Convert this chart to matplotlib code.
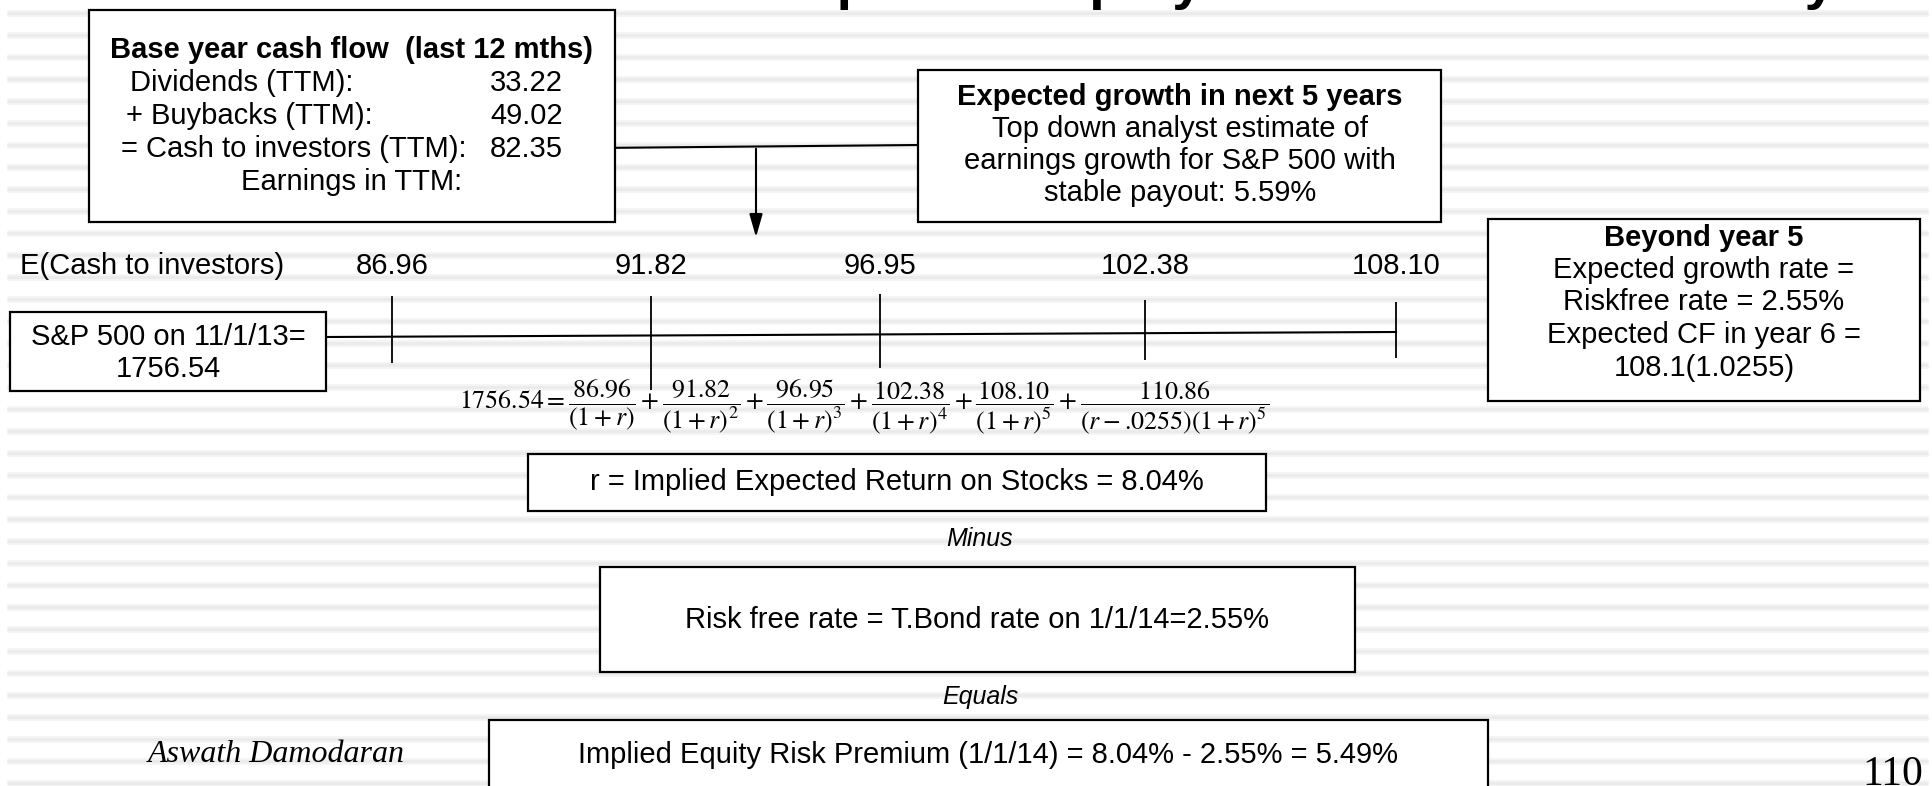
import matplotlib
matplotlib.use("Agg")
import matplotlib.pyplot as plt
from matplotlib.patches import Rectangle

# ---------------------------------------------------------------------------
# Values
# ---------------------------------------------------------------------------
base_labels = ["Dividends (TTM):", "+ Buybacks (TTM):", "= Cash to investors (TTM):"]
base_values = [33.22, 49.02, 82.35]
cash_flows = [86.96, 91.82, 96.95, 102.38, 108.10]
terminal_cf = 110.86
index_level = 1756.54
index_date = "11/1/13"
growth_rate = 5.59
riskfree = 2.55
implied_return = 8.04
erp = 5.49
last_cf = 108.1

# ---------------------------------------------------------------------------
# Layout (pixel space of a 1933 x 786 slide)
# ---------------------------------------------------------------------------
W, H = 1933, 786
SANS = "Liberation Sans"
SERIF = "Liberation Serif"
FS = 21
cf_x = [392, 651, 880, 1145, 1396]
tick_top = [296, 296, 294, 300, 302]
tick_bot = [363, 390, 368, 360, 358]
row_y = 266

fig = plt.figure(figsize=(W / 100, H / 100), dpi=100)
ax = fig.add_axes([0, 0, 1, 1])
ax.set_xlim(0, W)
ax.set_ylim(H, 0)
ax.axis("off")

# striped slide background
stripe_y = [13 + 22 * k for k in range(36)]
ax.hlines(stripe_y, 7, 1928, color="#f5f5f5", lw=5, zorder=0)
ax.hlines(stripe_y, 7, 1928, color="#ebebeb", lw=2.2, zorder=0)

# slide title sits above the crop: only its descenders reach into view
ax.text(707, -2, "An Updated Equity Risk Premium: January 2014", fontsize=40,
        fontweight="bold", family=SANS, ha="left", va="baseline", clip_on=True)


def box(x0, y0, x1, y1):
    ax.add_patch(Rectangle((x0, y0), x1 - x0, y1 - y0, facecolor="white",
                           edgecolor="black", lw=1.6, zorder=2))


def txt(x, y, s, ha="center", **kw):
    kw.setdefault("fontsize", FS)
    kw.setdefault("family", SANS)
    ax.text(x, y, s, ha=ha, va="center", zorder=3, **kw)


# base year box
box(89, 10, 615, 222)
txt(352, 50, "Base year cash flow  (last 12 mths)", fontweight="bold")
label_x = [130, 126, 121]
for i, (lab, val) in enumerate(zip(base_labels, base_values)):
    y = 83 + 33 * i
    txt(label_x[i], y, lab, ha="left")
    txt(563, y, f"{val:.2f}", ha="right")
txt(352, 182, "Earnings in TTM:")

# growth box and connector
box(918, 70, 1441, 222)
growth_lines = ["Top down analyst estimate of", "earnings growth for S&P 500 with",
                f"stable payout: {growth_rate:.2f}%"]
txt(1180, 97, "Expected growth in next 5 years", fontweight="bold")
for i, s in enumerate(growth_lines):
    txt(1180, 129 + 32 * i, s)
ax.plot([596, 918], [148, 145], color="black", lw=1.5, zorder=1)
ax.annotate("", xy=(756, 240), xytext=(756, 146),
            arrowprops=dict(arrowstyle="-|>,head_length=0.7,head_width=0.2",
                            mutation_scale=20, lw=1.5, color="black"), zorder=1)

# beyond year 5 box
box(1488, 219, 1920, 401)
beyond_lines = ["Expected growth rate =", f"Riskfree rate = {riskfree:.2f}%",
                "Expected CF in year 6 =", f"{last_cf}(1.0{riskfree * 100:.0f})"]
txt(1704, 238, "Beyond year 5", fontweight="bold")
for i, s in enumerate(beyond_lines):
    txt(1704, 270 + 32.5 * i, s)

# cash flow timeline
txt(20, row_y, "E(Cash to investors)", ha="left")
for x, cf in zip(cf_x, cash_flows):
    txt(x, row_y, f"{cf:.2f}")
box(10, 312, 326, 391)
txt(168, 337, f"S&P 500 on {index_date}=")
txt(168, 369, f"{index_level:.2f}")
ax.plot([326, cf_x[-1]], [337, 332], color="black", lw=1.5, zorder=1)
ax.vlines(cf_x, tick_top, tick_bot, color="black", lw=1.3, zorder=1)

# pricing equation
terms = [rf"\dfrac{{{cf:.2f}}}{{(1+r)^{{{i + 1}}}}}" if i else rf"\dfrac{{{cf:.2f}}}{{(1+r)}}"
         for i, cf in enumerate(cash_flows)]
terms.append(rf"\dfrac{{{terminal_cf:.2f}}}{{(r-\text{{.0255}})(1+r)^5}}")
eq = rf"${index_level:.2f}=" + "+".join(terms) + "$"
ax.text(864, 407, eq, fontsize=18.6, math_fontfamily="stix", ha="center", va="center", zorder=3)

# implied return, riskfree rate, premium
box(528, 454, 1266, 511)
txt(897, 482, f"r = Implied Expected Return on Stocks = {implied_return:.2f}%")
txt(980, 539, "Minus", style="italic", fontsize=18)
box(600, 567, 1355, 672)
txt(977, 620, f"Risk free rate = T.Bond rate on 1/1/14={riskfree:.2f}%")
txt(980, 697, "Equals", style="italic", fontsize=18)
box(489, 720, 1488, 800)
txt(988, 755, f"Implied Equity Risk Premium (1/1/14) = {implied_return:.2f}% - "
              f"{riskfree:.2f}% = {erp:.2f}%")

# footer
txt(148, 755, "Aswath Damodaran", ha="left", family=SERIF, style="italic", fontsize=23)
ax.text(1923, 785, "110", ha="right", va="baseline", family=SERIF, fontsize=30, zorder=3)

fig.savefig("out.png", dpi=100, facecolor="white")
